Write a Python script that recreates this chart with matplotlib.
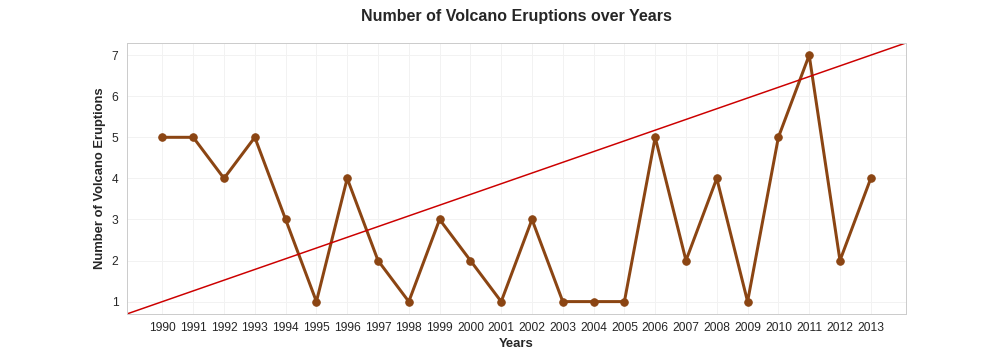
import matplotlib
matplotlib.use('Agg')
import matplotlib.pyplot as plt
import seaborn as sns

years = list(range(1990, 2014))
eruptions = [5, 5, 4, 5, 3, 1, 4, 2, 1, 3, 2, 1, 3, 1, 1, 1, 5, 2, 4, 1, 5, 7, 2, 4]

sns.set_style('whitegrid')
plt.rcParams['font.family'] = ['Liberation Sans', 'DejaVu Sans']

fig, ax = plt.subplots(figsize=(14, 5), dpi=72)
fig.subplots_adjust(left=0.126, right=0.899, top=0.881, bottom=0.128)

ax.plot(years, eruptions, color='#8B4513', linewidth=3, marker='o', markersize=7.5)
# diagonal reference line across the axes
ax.plot([0, 1], [0, 1], transform=ax.transAxes, color='#CC0000', linewidth=1.5)

ax.set_xticks(years)
ax.set_xticklabels([str(y) for y in years], fontsize=12)
ax.tick_params(axis='y', labelsize=12)
ax.tick_params(axis='both', pad=5)
ax.set_xlabel('Years', fontsize=13, fontweight='bold', labelpad=4)
ax.set_ylabel('Number of Volcano Eruptions', fontsize=13, fontweight='bold', labelpad=6)
ax.set_title('Number of Volcano Eruptions over Years', fontsize=16, fontweight='bold', pad=22)

ax.grid(True, color='#f2f2f2', linewidth=1)
for s in ax.spines.values():
    s.set_color('#cccccc')
    s.set_linewidth(1)

plt.savefig('out.png', dpi=72)
